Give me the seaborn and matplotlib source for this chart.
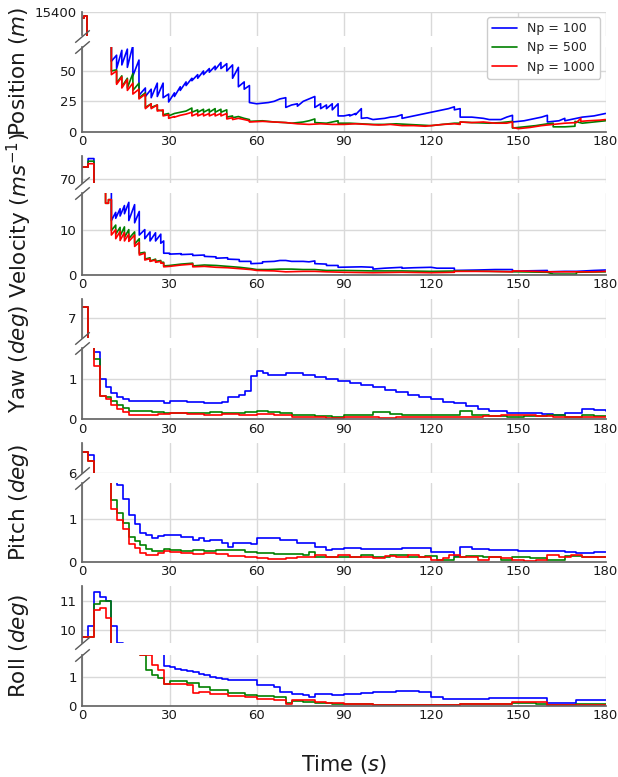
import matplotlib
matplotlib.use("Agg")
import matplotlib.pyplot as plt
import seaborn as sns
from matplotlib.lines import Line2D

# ── 데이터 ─────────────────────────────────────────
labels = ["Np = 100", "Np = 500", "Np = 1000"]
colors = ["#0000ff", "#008000", "#ff0000"]

# Position: line vertices (t, value); 2000 = value inside the axis break
pos_t_100 = [0, 0.5, 0.5, 1.7, 1.7, 10, 10, 11.8, 11.8, 13.6, 13.6, 15.5, 15.5, 17.4, 17.4, 19.5, 19.5,
             21.7, 21.7, 23.7, 23.7, 25.8, 25.8, 27.8, 27.8, 29.7, 29.7, 31.7, 31.7, 33.7, 33.7, 35.7, 35.7,
             37.7, 37.7, 39.7, 39.7, 41.7, 41.7, 43.7, 43.7, 45.7, 45.7, 47.7, 47.7, 49.7, 49.7, 51.7, 51.7,
             53.7, 53.7, 55.7, 55.7, 57.5, 57.5, 60, 64, 66, 68, 70, 70, 72, 74, 74, 76, 78, 80, 80, 82, 82,
             84, 84, 86, 86, 88, 88, 90, 92, 92, 94, 94, 96, 96, 98, 100, 104, 106, 108, 110, 110, 114, 116,
             118, 120, 122, 124, 126, 128, 128, 130, 130, 134, 138, 140, 144, 146, 148, 148, 152, 156, 158,
             160, 160, 164, 166, 166, 170, 172, 176, 180]
pos_v_100 = [15394.5, 15394.5, 15396.5, 15396.5, 2000, 2000, 58, 63, 52, 67, 55, 68, 53, 71, 46, 59, 30,
             36, 29, 35, 28, 40, 29, 40, 28, 31, 24.5, 32, 29, 37, 34, 41, 38,
             44, 42, 47, 44, 50, 47, 52, 49, 54, 51, 57, 52, 56, 50, 55, 44,
             53, 37, 41, 35, 38, 24, 23, 24, 25, 27, 28, 20, 22, 23, 21, 25, 27, 29, 20, 23, 19,
             22, 19, 23, 18, 23, 13, 13, 14, 13, 15, 14, 19, 11, 11.5, 10, 11, 12, 12.5, 14, 11, 13, 14,
             15, 16, 17, 18, 19, 20.5, 18, 19, 12, 12, 11, 10, 10, 12, 13.5, 8, 9, 11, 12,
             13.5, 8, 9, 11, 9, 11, 12, 13, 15]
pos_t_500 = [0, 0.5, 0.5, 1.7, 1.7, 10, 10, 11.8, 11.8, 13.6, 13.6, 15.5, 15.5, 17.4, 17.4, 19.5, 19.5,
             21.7, 21.7, 23.7, 23.7, 25.8, 25.8, 27.8, 27.8, 29.7, 29.7, 31.7, 33.7, 35.7, 37.7, 37.7,
             39.7, 39.7, 41.7, 41.7, 43.7, 43.7, 45.7, 45.7, 47.7, 47.7, 49.7, 49.7, 51.7, 51.7, 53.7, 55.7,
             57.5, 57.5, 62, 66, 70, 72, 76, 78, 80, 80, 84, 86, 88, 88, 92, 96, 100, 104, 108, 112, 116,
             120, 124, 128, 130, 130, 134, 140, 144, 148, 148, 152, 156, 160, 162, 162, 166, 169.5, 169.5,
             172, 176, 180]
pos_v_500 = [15394.5, 15394.5, 15396.5, 15396.5, 2000, 2000, 50, 51, 40, 46, 37, 44, 36, 48, 34, 40, 28,
             32, 20, 23, 20, 22, 18, 17, 14, 15, 13, 15, 16, 17, 19.5, 16,
             18, 16, 18.5, 16, 18.5, 16, 19, 16, 18.5, 16, 18, 12, 13, 11.5, 12.5, 11,
             10, 8.5, 9, 8, 7.5, 7, 8, 9, 10.5, 7.5, 7, 8, 9, 7, 7, 6.5, 6, 6, 6.5, 6, 5.5,
             5, 6, 7, 7, 8, 7.5, 7, 7.5, 8.5, 3, 4, 5, 6.5, 7, 4, 4, 4.5, 8.5,
             7, 8, 9]
pos_t_1000 = [0, 0.5, 0.5, 1.7, 1.7, 10, 10, 11.8, 11.8, 13.6, 13.6, 15.5, 15.5, 17.4, 17.4, 19.5, 19.5,
              21.7, 21.7, 23.7, 23.7, 25.8, 25.8, 27.8, 27.8, 29.7, 29.7, 31.7, 31.7, 33.7, 35.7, 37.7,
              37.7, 39.7, 39.7, 41.7, 41.7, 43.7, 43.7, 45.7, 45.7, 47.7, 47.7, 49.7, 49.7, 51.7, 51.7,
              53.7, 55.7, 57.5, 57.5, 62, 66, 70, 74, 78, 82, 86, 90, 94, 98, 102, 106, 110, 114, 118, 120,
              124, 128, 130, 130, 134, 138, 142, 146, 148, 148, 150, 154, 158, 162, 166, 170, 171.5, 171.5,
              174, 178, 180]
pos_v_1000 = [15394.5, 15394.5, 15396.5, 15396.5, 2000, 2000, 47, 50, 39, 45, 36, 43, 34, 40, 31, 35, 27,
              31, 19, 23, 19, 22, 17, 18, 13, 14, 11, 12.5, 12, 13.5, 14.5, 16,
              13, 15, 13, 15, 13, 15, 13, 15, 13, 15, 13, 15, 10.5, 11.5, 10,
              11, 10, 9, 8, 8.5, 8, 7.5, 6.5, 6, 6.5, 6, 6, 6.5, 6, 5.5, 6, 5, 5, 4.5, 5,
              6, 6.5, 6, 8, 7.5, 8, 7, 7, 8, 3.5, 2.5, 3.5, 5, 6, 7, 7.5, 11, 8.5,
              9, 9.5, 10]

# Velocity: line vertices (t, value); 40 = inside the break
vel_t_100 = [0, 2, 2, 4, 4, 10, 10, 11.5, 11.5, 13, 13, 14.5, 14.5, 16, 16, 18, 18, 19.6, 19.6, 21.5, 21.5,
             23.3, 23.3, 25.2, 25.2, 27, 27, 28, 28, 30, 30, 34, 34, 38, 38, 42, 42, 46, 46, 50, 50, 54, 54,
             58, 58, 62, 62, 66, 68, 70, 72, 76, 78, 80, 80, 84, 84, 88, 88, 96, 100, 100, 104, 110, 110,
             114, 120, 122, 128, 128, 136, 142, 148, 148, 152, 160, 160, 166, 170, 176, 180]
vel_v_100 = [72.26, 72.26, 73.9, 73.9, 40, 40, 12, 13.8, 12.5, 14.6, 13, 15.3, 13.5, 16, 12, 15.5, 11.5, 14, 8.8, 10, 8,
             9.5, 7.5, 9.3, 7.5, 9, 7, 7.5, 4.8, 4.8, 4.6, 4.7, 4.5, 4.6, 4.3, 4.4, 4.1, 4.0, 3.7, 3.8, 3.5, 3.4, 3.0,
             3.0, 2.5, 2.6, 2.9, 3.0, 3.2, 3.2, 3.0, 3.0, 2.9, 3.1, 2.5, 2.4, 2.1, 2.1, 1.7, 1.8, 1.7, 1.3, 1.5, 1.7, 1.5,
             1.6, 1.7, 1.5, 1.5, 1.0, 1.1, 1.2, 1.2, 0.8, 0.9, 1.0, 0.7, 0.8, 0.8, 1.0, 1.1]
vel_t_500 = [0, 2, 2, 4, 4, 8, 8, 9, 9, 10, 10, 11.5, 11.5, 13, 13, 14.5, 14.5, 16, 16, 18, 18, 19.6, 19.6,
             21.5, 21.5, 23.3, 23.3, 25.2, 25.2, 27, 27, 28, 28, 30, 34, 38, 38, 42, 46, 50, 54, 58, 60, 64,
             68, 72, 76, 80, 84, 90, 100, 110, 120, 130, 140, 150, 160, 162, 170, 170, 180]
vel_v_500 = [72.26, 72.26, 73.4, 73.4, 40, 40, 15.8, 15.8, 16.6, 16.6, 9.8, 11, 9, 10.5, 8.6, 10.6, 8.3, 10, 8, 9.5, 6.8, 8, 4.8,
             5, 3.5, 3.8, 3.1, 3.5, 3.0, 3.2, 2.8, 2.8, 2.0, 2.1, 2.4, 2.6, 2.0, 2.2, 2.1, 1.9, 1.7, 1.4, 1.2, 1.2,
             1.3, 1.3, 1.2, 1.2, 1.0, 1.0, 0.9, 0.9, 0.8, 0.9, 0.8, 0.7, 0.6, 0.2, 0.2, 0.6, 0.7]
vel_t_1000 = [0, 2, 2, 4, 4, 8, 8, 9, 9, 10, 10, 11.5, 11.5, 13, 13, 14.5, 14.5, 16, 16, 18, 18, 19.6, 19.6,
              21.5, 21.5, 23.3, 23.3, 25.2, 25.2, 27, 27, 28, 28, 30, 34, 38, 38, 42, 46, 50, 54, 58, 60, 66,
              70, 76, 80, 84, 90, 100, 110, 120, 128, 128, 140, 148, 148, 156, 160, 170, 176, 180]
vel_v_1000 = [72.26, 72.26, 72.9, 72.9, 40, 40, 15.8, 15.8, 16.6, 16.6, 8.8, 10, 8, 9.6, 7.6, 9.4, 7.5, 9, 7.4, 8.8, 6.3, 7.2, 4.4,
              4.8, 3.3, 3.6, 3.0, 3.3, 2.8, 3.0, 2.6, 2.6, 1.8, 1.9, 2.2, 2.4, 1.8, 1.9, 1.7, 1.6, 1.4, 1.2, 1.0, 0.9,
              0.7, 0.8, 0.8, 0.7, 0.6, 0.5, 0.6, 0.5, 0.6, 0.8, 0.8, 0.7, 0.9, 0.8, 0.7, 0.7, 0.7, 0.8]

# Yaw / Pitch / Roll: step change points (t, value)
yaw_t_100 = [0, 2, 4, 6, 8, 10, 12, 14, 16, 18, 28, 30, 36, 42, 48, 50, 54, 56, 58, 60,
             62, 64, 70, 76, 80, 84, 88, 92, 96, 100, 104, 108, 112, 116, 120, 124, 128, 132, 136, 140,
             146, 152, 158, 162, 166, 172, 176, 180]
yaw_v_100 = [7.3, 4.0, 1.68, 1.02, 0.8, 0.65, 0.55, 0.5, 0.47, 0.45, 0.4, 0.45, 0.43, 0.42, 0.43, 0.55, 0.6, 0.7, 1.08, 1.22,
             1.16, 1.1, 1.15, 1.12, 1.05, 1.0, 0.95, 0.9, 0.86, 0.8, 0.74, 0.68, 0.62, 0.56, 0.5, 0.44, 0.4, 0.33, 0.27, 0.22,
             0.17, 0.15, 0.13, 0.12, 0.16, 0.27, 0.24, 0.22]
yaw_t_500 = [0, 2, 4, 6, 8, 10, 12, 14, 16, 20, 24, 28, 32, 36, 40, 44, 48, 52, 56, 60,
             64, 68, 72, 76, 80, 86, 90, 96, 100, 106, 110, 116, 124, 130, 134, 140, 146, 152, 160, 166,
             172, 176, 180]
yaw_v_500 = [7.3, 4.0, 1.5, 0.58, 0.55, 0.45, 0.35, 0.28, 0.22, 0.2, 0.18, 0.16, 0.17, 0.15, 0.17, 0.18, 0.16, 0.17, 0.18, 0.2,
             0.18, 0.15, 0.12, 0.1, 0.08, 0.07, 0.1, 0.12, 0.18, 0.14, 0.12, 0.11, 0.1, 0.2, 0.12, 0.08, 0.06, 0.08, 0.1, 0.06,
             0.1, 0.08, 0.08]
yaw_t_1000 = [0, 2, 4, 6, 8, 10, 12, 14, 16, 20, 26, 30, 36, 42, 48, 54, 60, 66, 72, 78,
              84, 90, 96, 102, 108, 114, 120, 126, 132, 138, 144, 150, 156, 162, 168, 174, 180]
yaw_v_1000 = [7.3, 4.0, 1.33, 0.58, 0.5, 0.35, 0.25, 0.18, 0.1, 0.12, 0.14, 0.15, 0.13, 0.12, 0.14, 0.12, 0.13, 0.1, 0.06, 0.05,
              0.04, 0.05, 0.06, 0.04, 0.06, 0.05, 0.06, 0.05, 0.07, 0.09, 0.12, 0.1, 0.08, 0.06, 0.05, 0.06, 0.05]

pit_t_100 = [0, 2, 4, 12, 14, 16, 18, 20, 22, 24, 26, 28, 34, 38, 40, 42, 44, 48, 50, 52,
             54, 58, 60, 66, 68, 74, 80, 84, 86, 90, 96, 100, 106, 110, 116, 120, 128, 130, 134, 140,
             146, 150, 156, 160, 166, 170, 176, 180]
pit_v_100 = [6.42, 6.36, 4.0, 1.8, 1.47, 1.1, 0.88, 0.68, 0.62, 0.57, 0.6, 0.62, 0.58, 0.52, 0.55, 0.48, 0.52, 0.45, 0.35, 0.45,
             0.44, 0.42, 0.55, 0.57, 0.52, 0.45, 0.34, 0.27, 0.3, 0.32, 0.31, 0.3, 0.31, 0.33, 0.32, 0.23, 0.14, 0.34, 0.3, 0.28,
             0.28, 0.26, 0.26, 0.25, 0.22, 0.2, 0.22, 0.22]
pit_t_500 = [0, 2, 4, 10, 12, 14, 16, 18, 20, 22, 24, 28, 30, 34, 38, 42, 46, 50, 56, 60,
             66, 72, 76, 78, 80, 86, 90, 96, 100, 106, 112, 118, 122, 128, 132, 138, 144, 148, 154, 160,
             166, 172, 176, 180]
pit_v_500 = [6.42, 6.24, 4.0, 1.45, 1.15, 0.92, 0.58, 0.5, 0.4, 0.3, 0.25, 0.3, 0.27, 0.25, 0.28, 0.25, 0.27, 0.27, 0.23, 0.2,
             0.18, 0.18, 0.15, 0.22, 0.12, 0.1, 0.12, 0.15, 0.12, 0.15, 0.12, 0.14, 0.05, 0.12, 0.14, 0.1, 0.05, 0.1, 0.08, 0.05,
             0.13, 0.12, 0.1, 0.1]
pit_t_1000 = [0, 2, 4, 10, 12, 14, 16, 18, 20, 22, 24, 26, 28, 30, 34, 38, 42, 46, 50, 56,
              60, 64, 70, 74, 78, 80, 84, 88, 92, 96, 100, 104, 108, 112, 116, 120, 124, 126, 130, 136,
              140, 144, 148, 152, 156, 160, 164, 168, 172, 176, 180]
pit_v_1000 = [6.42, 6.24, 4.0, 1.24, 0.98, 0.78, 0.42, 0.32, 0.2, 0.16, 0.15, 0.2, 0.25, 0.22, 0.2, 0.18, 0.2, 0.17, 0.14, 0.12,
              0.08, 0.06, 0.08, 0.1, 0.12, 0.15, 0.12, 0.15, 0.1, 0.12, 0.08, 0.14, 0.1, 0.15, 0.1, 0.04, 0.08, 0.15, 0.12, 0.05,
              0.12, 0.08, 0.03, 0.02, 0.05, 0.15, 0.12, 0.15, 0.1, 0.1, 0.12]

rol_t_100 = [0, 2, 4, 6, 8, 10, 12, 14, 28, 30, 32, 34, 36, 38, 40, 42, 44, 46, 48, 50,
             52, 60, 66, 68, 72, 76, 78, 80, 86, 90, 96, 100, 108, 116, 120, 124, 128, 140, 148, 160,
             170, 180]
rol_v_100 = [9.77, 10.14, 11.28, 11.13, 11.0, 10.14, 9.57, 5.0, 1.39, 1.35, 1.3, 1.25, 1.22, 1.17, 1.12, 1.07, 1.02, 0.98, 0.95, 0.92,
             0.9, 0.72, 0.66, 0.48, 0.42, 0.38, 0.3, 0.42, 0.37, 0.42, 0.45, 0.5, 0.52, 0.5, 0.33, 0.25, 0.24, 0.28, 0.27, 0.09,
             0.2, 0.2]
rol_t_500 = [0, 4, 6, 8, 10, 20, 22, 24, 26, 28, 30, 36, 40, 44, 50, 56, 60, 66, 70, 72,
             76, 80, 86, 90, 100, 110, 120, 130, 140, 148, 156, 160, 170, 180]
rol_v_500 = [9.77, 10.9, 10.98, 10.98, 5.0, 1.77, 1.25, 1.07, 0.96, 0.77, 0.88, 0.8, 0.65, 0.55, 0.45, 0.4, 0.35, 0.33, 0.12, 0.18,
             0.15, 0.1, 0.06, 0.08, 0.05, 0.05, 0.04, 0.06, 0.08, 0.1, 0.08, 0.04, 0.08, 0.08]
rol_t_1000 = [0, 4, 6, 8, 10, 20, 24, 26, 28, 30, 36, 38, 40, 44, 50, 56, 60, 66, 70, 72,
              76, 80, 84, 90, 100, 110, 120, 130, 140, 148, 158, 160, 170, 180]
rol_v_1000 = [9.77, 10.67, 10.75, 10.4, 5.0, 1.77, 1.43, 1.25, 0.77, 0.78, 0.72, 0.45, 0.5, 0.42, 0.35, 0.3, 0.25, 0.2, 0.08, 0.2,
              0.22, 0.15, 0.1, 0.07, 0.05, 0.04, 0.04, 0.06, 0.07, 0.13, 0.13, 0.02, 0.02, 0.02]

x_ticks = [0, 30, 60, 90, 120, 150, 180]

# ── 스타일 ─────────────────────────────────────────────
sns.set_theme(style="whitegrid")
plt.rcParams["font.family"] = ["DejaVu Sans"]
plt.rcParams["mathtext.fontset"] = "dejavusans"
plt.rcParams["grid.color"] = "0.85"
plt.rcParams["axes.edgecolor"] = "0.4"

W, H = 618, 777
fig = plt.figure(figsize=(W / 100, H / 100), dpi=100)
X0, X1 = 82.3, 605.5


def box(top, bottom):
    return [X0 / W, 1 - bottom / H, (X1 - X0) / W, (bottom - top) / H]


panels = [
    # label, upper box, lower box, upper ylim, lower ylim, upper ticks, lower ticks, series, steps
    ("Position ($m$)", (11.7, 35.5), (46.7, 131.7), (15380, 15400), (0, 70), [15400], [0, 25, 50],
     [(pos_t_100, pos_v_100), (pos_t_500, pos_v_500), (pos_t_1000, pos_v_1000)], False),
    ("Velocity ($ms^{-1}$)", (155.5, 182.7), (193.3, 275), (69.2, 74.5), (0, 18), [70], [0, 10],
     [(vel_t_100, vel_v_100), (vel_t_500, vel_v_500), (vel_t_1000, vel_v_1000)], False),
    ("Yaw ($deg$)", (299.3, 337.5), (348.3, 419.3), (6.5, 7.5), (0, 1.78), [7], [0, 1],
     [(yaw_t_100, yaw_v_100), (yaw_t_500, yaw_v_500), (yaw_t_1000, yaw_v_1000)], True),
    ("Pitch ($deg$)", (443.3, 472.9), (483.3, 561.7), (6, 6.6), (0, 1.85), [6], [0, 1],
     [(pit_t_100, pit_v_100), (pit_t_500, pit_v_500), (pit_t_1000, pit_v_1000)], True),
    ("Roll ($deg$)", (586, 643.3), (655, 706), (9.55, 11.5), (0, 1.78), [10, 11], [0, 1],
     [(rol_t_100, rol_v_100), (rol_t_500, rol_v_500), (rol_t_1000, rol_v_1000)], True),
]

brk = dict(marker=[(-1, -0.85), (1, 0.85)], markersize=10.5, linestyle="none",
           color="0.35", mec="0.35", mew=1, clip_on=False)

for label, ub, lb, ylu, yll, tku, tkl, series, steps in panels:
    ax_u = fig.add_axes(box(*ub))
    ax_l = fig.add_axes(box(*lb))
    for ax in (ax_u, ax_l):
        for (t, v), c in zip(series, colors):
            kw = {"drawstyle": "steps-post"} if steps else {}
            sns.lineplot(x=t, y=v, ax=ax, color=c, lw=1.2, sort=False,
                         estimator=None, legend=False, **kw)
        ax.set_xlim(0, 180)
        ax.set_xticks(x_ticks)
        ax.set_xlabel("")
        ax.set_ylabel("")
        ax.tick_params(labelsize=9.5, length=0, labelcolor="0.1")
        ax.tick_params(axis="y", pad=4)
        ax.tick_params(axis="x", pad=2.5)
        ax.spines[["top", "right"]].set_visible(False)
        ax.grid(True, lw=1.0)
    ax_u.set_ylim(*ylu)
    ax_u.set_yticks(tku)
    ax_u.spines["bottom"].set_visible(False)
    ax_u.tick_params(labelbottom=False)
    ax_l.set_ylim(*yll)
    ax_l.set_yticks(tkl)
    ax_l.set_xticklabels([str(x) for x in x_ticks])
    # 축 끊김 표시
    ax_u.plot([0], [0], transform=ax_u.transAxes, **brk)
    ax_l.plot([0], [1], transform=ax_l.transAxes, **brk)
    yc = 1 - ((ub[0] + lb[1]) / 2) / H
    fig.text(19 / W, yc, label, rotation=90, ha="center", va="center", fontsize=15.5, color="0.1")

fig.text(344 / W, 1 - 765 / H, "Time ($s$)", ha="center", va="center", fontsize=15, color="0.1")

handles = [Line2D([], [], color=c, lw=1.2) for c in colors]
fig.legend(handles, labels, loc="upper right", bbox_to_anchor=(600 / W, 1 - 17 / H),
           fontsize=9, frameon=True, edgecolor="0.8", framealpha=1, borderaxespad=0)

fig.savefig("out.png", dpi=100)
